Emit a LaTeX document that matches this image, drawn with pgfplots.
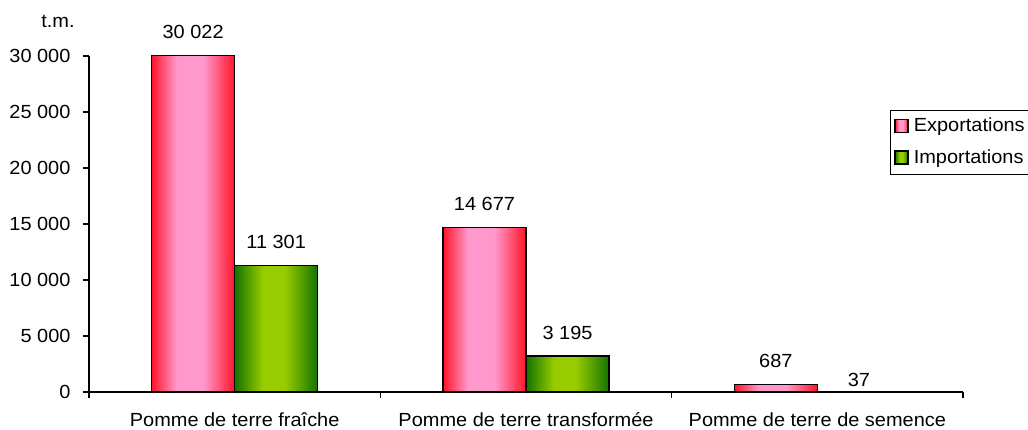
\documentclass[border=0pt]{standalone}
\usepackage{pgfplots}
\pgfplotsset{compat=1.18}
\usepackage{fontspec}
\setmainfont[FakeStretch=1.05]{Liberation Sans}
\definecolor{expred}{RGB}{255,20,40}
\definecolor{exppink}{RGB}{255,153,204}
\definecolor{impdark}{RGB}{20,115,0}
\definecolor{implight}{RGB}{153,204,0}
\pgfdeclarehorizontalshading{expshade}{100bp}{color(0bp)=(expred); color(25bp)=(expred); color(40bp)=(exppink); color(56bp)=(exppink); color(75bp)=(expred); color(100bp)=(expred)}
\pgfdeclarehorizontalshading{impshade}{100bp}{color(0bp)=(impdark); color(25bp)=(impdark); color(42bp)=(implight); color(55bp)=(implight); color(75bp)=(impdark); color(100bp)=(impdark)}
\pgfplotsset{
  expbar/.style={draw=black, line width=1.5pt, shading=expshade, bar shift=-0.1425},
  impbar/.style={draw=black, line width=1.5pt, shading=impshade, bar shift=0.1425},
}
\begin{document}
\fontsize{19}{23}\selectfont
\begin{tikzpicture}
\useasboundingbox (0pt,0pt) rectangle (1028pt,430pt);
\node at (58pt,409pt) {t.m.};
\begin{axis}[
  at={(89pt,38pt)}, anchor=south west,
  scale only axis, width=874pt, height=336pt,
  xmin=-0.5, xmax=2.5, ymin=0, ymax=30000,
  axis lines*=left,
  axis line style={black, line width=1.2pt},
  ytick={0,5000,...,30000},
  xtick={0,1,2},
  xticklabels={Pomme de terre fraîche, Pomme de terre transformée, Pomme de terre de semence},
  minor xtick={-0.5,0.5,1.5,2.5},
  major x tick style={draw=none},
  tick align=outside,
  major tick length=6pt, minor tick length=6pt,
  every tick/.style={black, line width=1.2pt},
  tick label style={font=\fontsize{19}{23}\selectfont},
  xticklabel style={yshift=-8pt},
  yticklabel style={xshift=-6pt},
  scaled y ticks=false,
  /pgf/number format/.cd, assume math mode=true, 1000 sep={\ }, fixed, precision=0,
  /pgfplots/.cd,
  ybar, bar width=0.285,
  nodes near coords,
  every node near coord/.append style={anchor=south, inner sep=0pt, yshift=16pt, font=\fontsize{19}{23}\selectfont},
  legend image code/.code={\draw[#1, line width=1.2pt] (3pt,-6pt) rectangle (16pt,7pt); \path (19pt,0pt);},
  legend style={at={(rel axis cs:0.9165,0.84)}, anchor=north west, draw=black, line width=0.8pt,
    font=\fontsize{19}{23}\selectfont, row sep=11pt, inner xsep=4pt, inner ysep=6pt},
  legend cell align=left,
  clip=false,
]
\addplot[expbar] coordinates {(0,30022)};
\addplot[impbar] coordinates {(0,11301)};
\addplot[expbar, forget plot] coordinates {(1,14677)};
\addplot[impbar, forget plot] coordinates {(1,3195)};
\addplot[expbar, forget plot] coordinates {(2,687)};
\addplot[impbar, forget plot, every node near coord/.append style={yshift=-12pt}] coordinates {(2,37)};
\legend{Exportations, Importations}
\end{axis}
\end{tikzpicture}
\end{document}
